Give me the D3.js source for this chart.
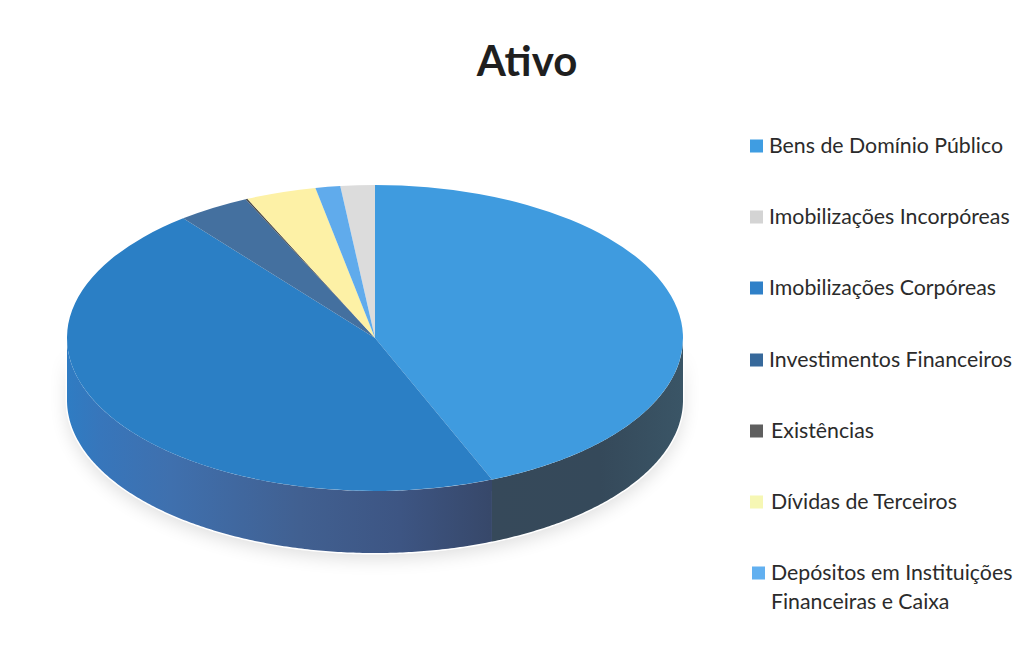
<!DOCTYPE html>
<html lang="pt">
<head>
<meta charset="utf-8">
<title>Ativo</title>
<script src="https://cdn.jsdelivr.net/npm/d3@7"></script>
<style>
  html, body { margin: 0; padding: 0; background: #fff; }
  svg { display: block; }
  text { font-family: Lato, "Open Sans", sans-serif; fill: #2b2b2b; }
</style>
</head>
<body>
<svg id="chart" width="1035" height="652"></svg>
<script>
// Balance-sheet assets, share of total (%), in legend order
const categories = [
  "Bens de Domínio Público",
  "Imobilizações Incorpóreas",
  "Imobilizações Corpóreas",
  "Investimentos Financeiros",
  "Existências",
  "Dívidas de Terceiros",
  "Depósitos em Instituições Financeiras e Caixa"
];
const shares = [43.8, 1.8, 45.5, 3.8, 0.1, 3.7, 1.3];
const swatchColors = ["#3f9de2", "#d4d4d4", "#2f80c8", "#37699b", "#5f5f5f", "#f6f7b4", "#62b0f0"];
const sliceColors = ["#3f9bdf", "#dcdcdc", "#2b7fc5", "#44709f", "#4a4a4a", "#fdf1a6", "#60abec"];
// Clockwise sequence of the slices around the pie, starting at twelve o'clock
const sliceOrder = [0, 2, 3, 4, 5, 6, 1];
const legendLines = [
  ["Bens de Domínio Público"],
  ["Imobilizações Incorpóreas"],
  ["Imobilizações Corpóreas"],
  ["Investimentos Financeiros"],
  ["Existências"],
  ["Dívidas de Terceiros"],
  ["Depósitos em Instituições", "Financeiras e Caixa"]
];
const legendMiddles = [146, 217, 288, 360, 431, 502, 573];
const legendTextX = [769, 769, 769, 769, 771, 771, 771];

const cx = 375, cy = 338, rx = 308, ry = 153, depth = 62;
const svg = d3.select("#chart");
const defs = svg.append("defs");

// Soft cast shadow under the disc
defs.append("filter").attr("id", "soft")
  .attr("x", "-10%").attr("y", "-20%").attr("width", "120%").attr("height", "140%")
  .append("feGaussianBlur").attr("stdDeviation", 9);

// Wall shading of the two front-facing slices, from the lit rim to the dark seam
const wallShades = {
  2: [[67, "#2f7cc3"], [100, "#3776bb"], [170, "#3f70ae"], [300, "#416091"], [400, "#3d5583"], [490, "#37486a"]],
  0: [[490, "#36495a"], [600, "#35495a"], [683, "#3a5566"]]
};
Object.entries(wallShades).forEach(([key, stops]) => {
  const x0 = stops[0][0], x1 = stops[stops.length - 1][0];
  const grad = defs.append("linearGradient").attr("id", "wall" + key)
    .attr("gradientUnits", "userSpaceOnUse")
    .attr("x1", x0).attr("x2", x1).attr("y1", 0).attr("y2", 0);
  stops.forEach(([x, c]) => grad.append("stop")
    .attr("offset", (x - x0) / (x1 - x0)).attr("stop-color", c));
});

// Slice angles from the shares, following the clockwise order
const pie = d3.pie()
  .sort((a, b) => sliceOrder.indexOf(a) - sliceOrder.indexOf(b))
  .value(i => shares[i]);
const slices = pie(d3.range(shares.length));

const px = a => cx + rx * Math.sin(a);
const py = a => cy - ry * Math.cos(a);

function wallPath(a0, a1) {
  const steps = d3.range(a0, a1, 0.01).concat(a1);
  const top = steps.map(a => [px(a), py(a)]);
  const bottom = steps.slice().reverse().map(a => [px(a), py(a) + depth]);
  return d3.line()(top.concat(bottom)) + "Z";
}

// Shadow of the whole solid
svg.append("path")
  .attr("d", wallPath(Math.PI / 2, 3 * Math.PI / 2))
  .attr("transform", "translate(0,6)")
  .attr("fill", "#000").attr("opacity", 0.13)
  .attr("filter", "url(#soft)");

// White rim between the solid and its shadow
svg.append("path")
  .attr("d", wallPath(Math.PI / 2, 3 * Math.PI / 2))
  .attr("fill", "#fff").attr("stroke", "#fff").attr("stroke-width", 3);

// Front walls: only the part of each slice facing the viewer
const front = slices
  .map(s => ({ s, a0: Math.max(s.startAngle, Math.PI / 2), a1: Math.min(s.endAngle, 3 * Math.PI / 2) }))
  .filter(d => d.a1 > d.a0);
svg.append("g").selectAll("path").data(front).join("path")
  .attr("d", d => wallPath(d.a0, d.a1))
  .attr("fill", d => `url(#wall${d.s.data})`);

// Top face: a circular pie flattened into an ellipse
const arc = d3.arc().innerRadius(0).outerRadius(rx);
svg.append("g")
  .attr("transform", `translate(${cx},${cy}) scale(1,${ry / rx})`)
  .selectAll("path").data(slices).join("path")
  .attr("d", arc)
  .attr("fill", d => sliceColors[d.data]);

// Title
svg.append("text")
  .attr("x", 527).attr("y", 76)
  .attr("text-anchor", "middle")
  .attr("font-size", 42).attr("font-weight", 700)
  .style("fill", "#1f1f1f")
  .text("Ativo");

// Legend
const legend = svg.append("g").selectAll("g").data(categories).join("g");
legend.append("rect")
  .attr("x", (d, i) => i === 6 ? 752 : 750)
  .attr("y", (d, i) => legendMiddles[i] - 6.5)
  .attr("width", 13).attr("height", 13)
  .attr("fill", (d, i) => swatchColors[i]);
legend.each(function (d, i) {
  d3.select(this).selectAll("text").data(legendLines[i]).join("text")
    .attr("x", legendTextX[i])
    .attr("y", (line, j) => legendMiddles[i] + 7 + j * 29)
    .attr("font-size", 21.3)
    .text(line => line);
});
</script>
</body>
</html>
